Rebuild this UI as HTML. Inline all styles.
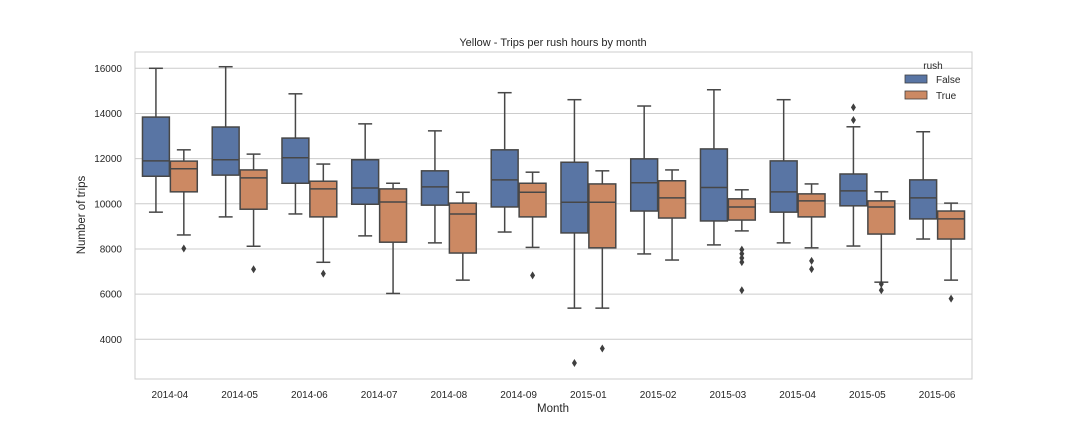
<!DOCTYPE html>
<html><head><meta charset="utf-8"><style>
body{margin:0;background:#fff;}
svg{font-family:"Liberation Sans",Arial,sans-serif;}
</style></head><body>
<svg id="chart" width="1080" height="432" viewBox="0 0 1080 432" xmlns="http://www.w3.org/2000/svg">
<rect width="1080" height="432" fill="#fff"/>
<text x="553" y="46" font-size="11" text-anchor="middle" fill="#262626">Yellow - Trips per rush hours by month</text>
<g id="grid"></g>
<g id="boxes"></g>
<rect x="135" y="52" width="837" height="327" fill="none" stroke="#cccccc" stroke-width="1"/>
<g id="ticks"></g>
<text x="553" y="412" font-size="11.5" text-anchor="middle" fill="#262626">Month</text>
<text transform="translate(85,215) rotate(-90)" font-size="11.5" text-anchor="middle" fill="#262626">Number of trips</text>
<g>
<text x="933" y="69" font-size="10" text-anchor="middle" fill="#262626">rush</text>
<rect x="905" y="75" width="22" height="8" fill="#5975a4" stroke="#3f3f3f" stroke-width="0.8"/>
<text x="936" y="83" font-size="10" fill="#262626">False</text>
<rect x="905" y="91" width="22" height="8" fill="#cc8963" stroke="#3f3f3f" stroke-width="0.8"/>
<text x="936" y="99" font-size="10" fill="#262626">True</text>
</g>
</svg>
<script>
const months = ["2014-04","2014-05","2014-06","2014-07","2014-08","2014-09","2015-01","2015-02","2015-03","2015-04","2015-05","2015-06"];
const yTicks = [4000,6000,8000,10000,12000,14000,16000];
// [low whisker, Q1, median, Q3, high whisker]
const falseStats = [
 [9630,11220,11900,13840,16000],[9420,11270,11950,13400,16070],[9550,10910,12040,12910,14870],
 [8580,9980,10700,11950,13540],[8270,9940,10750,11460,13230],[8750,9860,11060,12390,14920],
 [5380,8710,10070,11840,14610],[7780,9680,10930,11990,14330],[8180,9240,10720,12430,15050],
 [8270,9630,10530,11900,14610],[8130,9910,10570,11320,13410],[8440,9330,10260,11060,13190]];
const trueStats = [
 [8620,10530,11550,11890,12390],[8120,9760,11150,11500,12200],[7410,9420,10660,11000,11760],
 [6030,8300,10080,10660,10910],[6620,7820,9550,10030,10510],[8070,9420,10510,10910,11400],
 [5380,8050,10070,10880,11460],[7510,9370,10260,11020,11500],[8800,9280,9860,10220,10620],
 [8050,9420,10130,10440,10880],[6530,8660,9860,10130,10530],[6620,8440,9330,9680,10030]];
const falseOutliers = [[],[],[],[],[],[],[2950],[],[],[],[14270,13710],[]];
const trueOutliers = [[8020],[7100],[6910],[],[],[6830],[3590],[],[7970,7790,7600,7420,6170],[7470,7110],[6450,6170],[5800]];

const NS="http://www.w3.org/2000/svg";
const X0=135, X1=972, band=(X1-X0)/months.length;
const yS=v=>339.3-(v-4000)*(271/12000);
const xC=i=>X0+band*(i+0.5);
function mk(tag,attrs,parent){const e=document.createElementNS(NS,tag);for(const k in attrs)e.setAttribute(k,attrs[k]);parent.appendChild(e);return e;}
const grid=document.getElementById('grid'),ticks=document.getElementById('ticks'),boxes=document.getElementById('boxes');
yTicks.forEach(t=>{
 const l=mk('line',{x1:X0,x2:X1,y1:yS(t),y2:yS(t),stroke:'#cccccc','stroke-width':1},grid);
 
 
 const tx=mk('text',{x:122,y:yS(t)+3.5,'font-size':10,'text-anchor':'end',fill:'#262626'},ticks);
 tx.textContent=t;
 
 
});
months.forEach((m,i)=>{
 const tx=mk('text',{x:xC(i),y:398,'font-size':10,'text-anchor':'middle',fill:'#262626'},ticks);
 tx.textContent=m;
 
 
});
const bw=band*0.8/2, line='#474747';
function drawBox(s,outs,cx,color,name){
 const g=mk('g',{},boxes);
 
 
 const L=cx-bw/2+0.5,R=cx+bw/2-0.5;
 mk('line',{x1:cx,x2:cx,y1:yS(s[0]),y2:yS(s[1]),stroke:line,'stroke-width':1.5},g);
 mk('line',{x1:cx,x2:cx,y1:yS(s[3]),y2:yS(s[4]),stroke:line,'stroke-width':1.5},g);
 mk('line',{x1:cx-bw/4,x2:cx+bw/4,y1:yS(s[0]),y2:yS(s[0]),stroke:line,'stroke-width':1.5},g);
 mk('line',{x1:cx-bw/4,x2:cx+bw/4,y1:yS(s[4]),y2:yS(s[4]),stroke:line,'stroke-width':1.5},g);
 mk('rect',{x:L,y:yS(s[3]),width:R-L,height:yS(s[1])-yS(s[3]),fill:color,stroke:line,'stroke-width':1.5},g);
 mk('line',{x1:L,x2:R,y1:yS(s[2]),y2:yS(s[2]),stroke:line,'stroke-width':1.5},g);
 outs.forEach(o=>{const y=yS(o);
  const d=mk('path',{d:`M${cx} ${y-4}L${cx+2.5} ${y}L${cx} ${y+4}L${cx-2.5} ${y}Z`,fill:'#3f3f3f'},g);
  
  
 });
}
months.forEach((m,i)=>{
 drawBox(falseStats[i],falseOutliers[i],xC(i)-bw/2,'#5975a4','box-false-'+m);
 drawBox(trueStats[i],trueOutliers[i],xC(i)+bw/2,'#cc8963','box-true-'+m);
});
</script>
</body></html>
